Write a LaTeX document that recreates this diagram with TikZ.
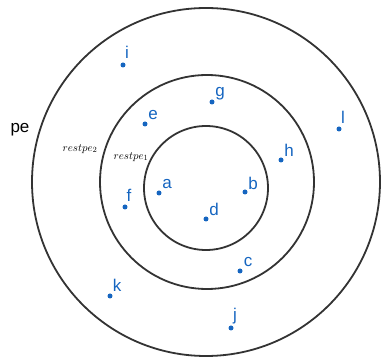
\documentclass[tikz,border=0pt]{standalone}
\usepackage{fontspec}
\setmainfont{Liberation Sans}
\definecolor{ptblue}{RGB}{21,101,192}
\definecolor{ringgray}{RGB}{51,51,51}
\begin{document}
\begin{tikzpicture}[x=1pt,y=-1pt,
  ring/.style={circle,draw=ringgray,line width=1.8pt,inner sep=0pt},
  pt/.style={circle,fill=ptblue,inner sep=0pt,minimum size=5pt},
  lbl/.style={text=ptblue,font=\fontsize{17}{17}\selectfont,inner sep=0pt},
  setlbl/.style={font=\fontsize{11}{11}\selectfont,inner sep=0pt}]
\useasboundingbox (0,0) rectangle (381,358);
\node[ring,minimum size=348pt] (outer) at (206,182) {};
\node[ring,minimum size=214pt] (middle) at (207,182) {};
\node[ring,minimum size=124pt] (inner) at (206,188) {};
\node[font=\fontsize{17}{17}\selectfont,inner sep=0pt] (pe) at (20,130) {pe};
\node[setlbl] (r2) at (80,149) {$restpe_2$};
\node[setlbl] (r1) at (131,157) {$restpe_1$};
\foreach \n/\x/\y/\lx/\ly in {i/123/65/127/52, e/145/124/153/115, g/212/102/220/94,
  h/281/160/289/150, l/339/129/343/117, a/159/193/167/184, b/245/192/253/183,
  d/206/219/214/209, f/125/207/129/195, c/240/271/248/262, k/110/296/117/285,
  j/231/328/235/316}{
  \node[pt] (p\n) at (\x,\y) {};
  \node[lbl] (l\n) at (\lx,\ly) {\n};
}
\end{tikzpicture}
\end{document}
